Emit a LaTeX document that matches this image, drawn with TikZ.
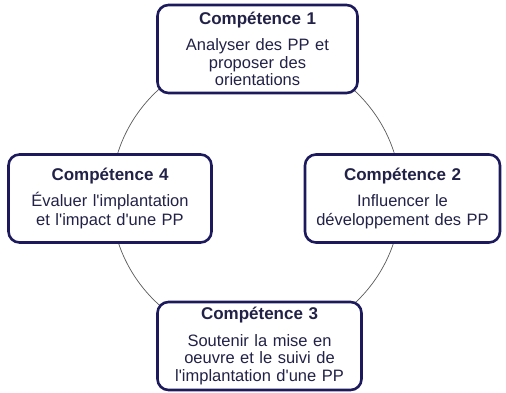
\documentclass[tikz,border=0pt]{standalone}
\usepackage{fontspec}
\setmainfont{Liberation Sans}
\definecolor{compnavy}{RGB}{28,26,92}
\definecolor{comptext}{RGB}{34,34,72}
\newcommand{\apos}{\textquotesingle}
\tikzset{
    compbox/.style={draw=compnavy, line width=2.6pt, fill=white, rounded corners=11pt,
        text width=190pt, minimum width=200pt, minimum height=88pt, align=center,
        inner sep=2pt, text=comptext, font=\fontsize{16.5}{17.4}\selectfont},
    twolines/.style={font=\fontsize{16.5}{19.5}\selectfont}
}

\begin{document}
\begin{tikzpicture}[x=1pt, y=-1pt]
    \useasboundingbox (0,0) rectangle (506,393);
    \coordinate (mid) at (256,197);
    \draw[gray!70!black, line width=0.7pt] (mid) circle (145pt);
    \node[compbox] (comp1) at (257.5,49) {
        {\fontsize{17}{17}\selectfont\bfseries Compétence 1} \\[9pt]
        Analyser des PP et \\
        proposer des \\
        orientations
    };
    \node[compbox, twolines, minimum width=203pt] (comp4) at (110,198.5) {
        {\fontsize{17}{17}\selectfont\bfseries Compétence 4} \\[6pt]
        Évaluer l\apos implantation \\
        et l\apos impact d\apos une PP
    };
    \node[compbox, twolines, minimum width=195pt] (comp2) at (402.5,198.5) {
        {\fontsize{17}{17}\selectfont\bfseries Compétence 2} \\[6pt]
        Influencer le \\
        développement des PP
    };
    \node[compbox, minimum width=204pt] (comp3) at (259.5,346) {
        {\fontsize{17}{17}\selectfont\bfseries Compétence 3} \\[9pt]
        Soutenir la mise en \\
        oeuvre et le suivi de \\
        l\apos implantation d\apos une PP
    };
\end{tikzpicture}
\end{document}
